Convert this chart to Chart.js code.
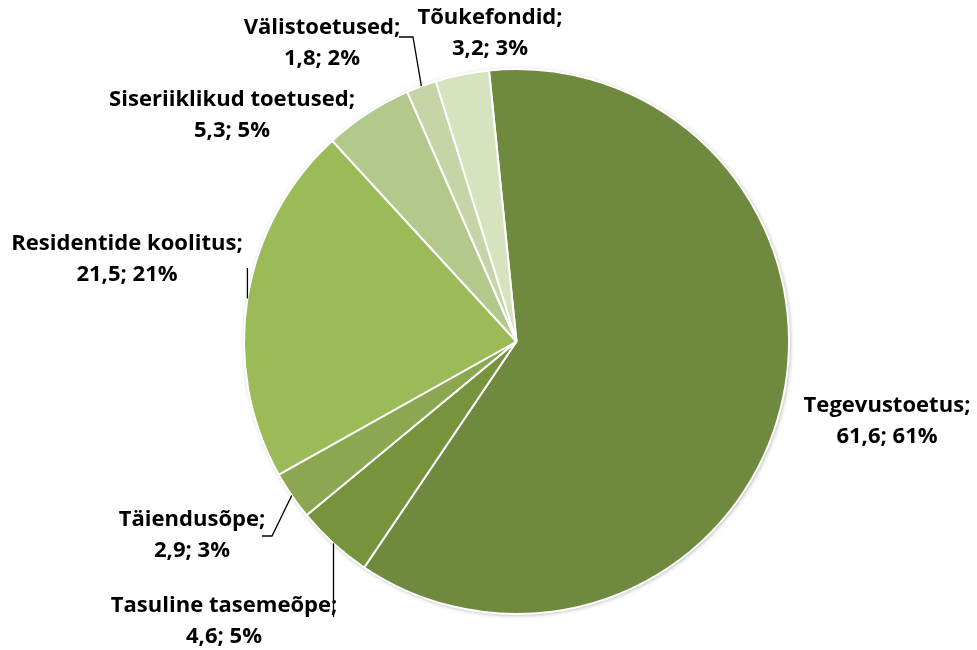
<!DOCTYPE html>
<html><head><meta charset="utf-8">
<script src="https://cdn.jsdelivr.net/npm/chart.js@4/dist/chart.umd.min.js"></script>
<style>html,body{margin:0;padding:0;background:#fff}#wrap{width:977px;height:650px;position:relative}</style>
</head><body><div id="wrap"><canvas id="c" width="977" height="650"></canvas></div>
<script>
const categories = ["Tegevustoetus", "Tasuline tasemeõpe", "Täiendusõpe", "Residentide koolitus", "Siseriiklikud toetused", "Välistoetused", "Tõukefondid"];
const values = [61.6, 4.6, 2.9, 21.5, 5.3, 1.8, 3.2];
const colors = ["#6F8A3E", "#77933C", "#8BA851", "#9BBB59", "#B3C98C", "#C5D5A8", "#D7E3BE"];

// label layout (centre of first text line) and leader line bend points
const labelLayout = [
  {x: 887, y: 406, leader: null},
  {x: 224, y: 606, leader: [["arc", 617]]},
  {x: 192, y: 520, leader: [[272, 536], [262, 536]]},
  {x: 127, y: 244, leader: [["arc", 268]]},
  {x: 232, y: 100, leader: null},
  {x: 322, y: 28, leader: [[413, 37], [399, 37]]},
  {x: 490, y: 18, leader: null}
];

const total = values.reduce((a, b) => a + b, 0);
const fmt = v => String(v).replace('.', ',');

const shadowPlugin = {
  id: 'pieShadow',
  beforeDatasetsDraw(chart) {
    const arc = chart.getDatasetMeta(0).data[0];
    if (!arc) return;
    const ctx = chart.ctx;
    ctx.save();
    ctx.shadowColor = 'rgba(0,0,0,0.35)';
    ctx.shadowBlur = 4;
    ctx.shadowOffsetX = 1;
    ctx.shadowOffsetY = 1;
    ctx.fillStyle = '#ffffff';
    ctx.beginPath();
    ctx.arc(arc.x, arc.y, arc.outerRadius, 0, Math.PI * 2);
    ctx.fill();
    ctx.restore();
  }
};

function drawText(ctx, text, x, y, sx) {
  ctx.save();
  ctx.translate(x, y);
  ctx.scale(sx, 1);
  ctx.fillText(text, 0, 0);
  ctx.restore();
}

const labelPlugin = {
  id: 'pieLabels',
  afterDatasetsDraw(chart) {
    const ctx = chart.ctx;
    const meta = chart.getDatasetMeta(0);
    ctx.save();
    meta.data.forEach((arc, i) => {
      const L = labelLayout[i];
      const mid = (arc.startAngle + arc.endAngle) / 2;
      const ax = arc.x + Math.cos(mid) * arc.outerRadius;
      const ay = arc.y + Math.sin(mid) * arc.outerRadius;
      if (L.leader) {
        ctx.strokeStyle = '#000';
        ctx.lineWidth = 1.3;
        ctx.beginPath();
        ctx.moveTo(ax, ay);
        L.leader.forEach(p => {
          const px = p[0] === 'arc' ? ax : p[0];
          ctx.lineTo(px, p[1]);
        });
        ctx.stroke();
      }
      const pct = Math.round(values[i] / total * 100);
      ctx.fillStyle = '#000';
      ctx.font = 'bold 21px "Open Sans", Lato, sans-serif';
      ctx.textAlign = 'center';
      ctx.textBaseline = 'middle';
      drawText(ctx, categories[i] + ';', L.x, L.y, 1.05);
      drawText(ctx, fmt(values[i]) + '; ' + pct + '%', L.x, L.y + 31, 1.05);
    });
    ctx.restore();
  }
};

new Chart(document.getElementById('c'), {
  type: 'pie',
  data: {
    labels: categories,
    datasets: [{
      data: values,
      backgroundColor: colors,
      borderColor: '#ffffff',
      borderWidth: 2
    }]
  },
  options: {
    responsive: false,
    animation: false,
    rotation: -5.8,
    layout: {padding: {left: 243, right: 187, top: 68, bottom: 35}},
    plugins: {legend: {display: false}, tooltip: {enabled: false}}
  },
  plugins: [shadowPlugin, labelPlugin]
});
</script>
</body></html>
